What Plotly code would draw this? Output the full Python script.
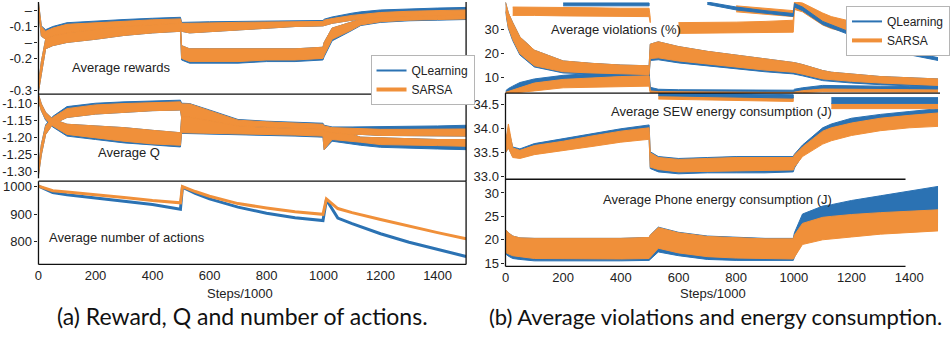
import plotly.graph_objects as go

# ---------------- data ----------------
STEPS = [0, 10, 25, 50, 100, 200, 300, 400, 498, 502, 530, 600, 700, 800, 900, 998,
         1002, 1030, 1100, 1130, 1200, 1300, 1400, 1500]
X_TICKS = [0, 200, 400, 600, 800, 1000, 1200, 1400]

# Average rewards (two noisy envelopes per algorithm: a = upper, b = lower)
rew_sarsa_a_top = [-0.025, -0.10, -0.115, -0.105, -0.093, -0.088, -0.083, -0.079, -0.076, -0.09, -0.09, -0.088,
                   -0.087, -0.086, -0.085, -0.084, -0.08, -0.075, -0.065, -0.062, -0.056, -0.052, -0.05, -0.048]
rew_sarsa_a_bot = [-0.05, -0.13, -0.14, -0.13, -0.12, -0.11, -0.10, -0.095, -0.09, -0.115, -0.12, -0.115,
                   -0.11, -0.105, -0.10, -0.098, -0.095, -0.09, -0.08, -0.077, -0.072, -0.068, -0.066, -0.064]
rew_sarsa_b_top = [-0.28, -0.21, -0.14, -0.13, -0.12, -0.11, -0.10, -0.095, -0.09, -0.16, -0.17, -0.17,
                   -0.17, -0.17, -0.17, -0.165, -0.15, -0.105, -0.085, -0.077, -0.072, -0.068, -0.066, -0.064]
rew_sarsa_b_bot = [-0.305, -0.25, -0.17, -0.16, -0.15, -0.14, -0.128, -0.12, -0.115, -0.20, -0.21, -0.21,
                   -0.21, -0.205, -0.205, -0.20, -0.19, -0.14, -0.11, -0.095, -0.085, -0.08, -0.078, -0.076]
rew_ql_a_top = [-0.025, -0.098, -0.11, -0.10, -0.088, -0.082, -0.078, -0.074, -0.071, -0.087, -0.087, -0.085,
                -0.084, -0.083, -0.082, -0.081, -0.077, -0.07, -0.058, -0.054, -0.048, -0.044, -0.042, -0.04]
rew_ql_a_bot = [-0.05, -0.13, -0.14, -0.13, -0.12, -0.11, -0.10, -0.095, -0.09, -0.115, -0.12, -0.115,
                -0.11, -0.105, -0.10, -0.098, -0.095, -0.09, -0.08, -0.077, -0.072, -0.068, -0.066, -0.064]
rew_ql_b_top = [-0.28, -0.21, -0.14, -0.13, -0.12, -0.11, -0.10, -0.095, -0.09, -0.16, -0.17, -0.17,
                -0.17, -0.17, -0.17, -0.165, -0.15, -0.105, -0.085, -0.077, -0.072, -0.068, -0.066, -0.064]
rew_ql_b_bot = [-0.305, -0.25, -0.17, -0.16, -0.15, -0.14, -0.128, -0.12, -0.115, -0.205, -0.215, -0.215,
                -0.215, -0.21, -0.21, -0.205, -0.195, -0.145, -0.112, -0.097, -0.087, -0.082, -0.08, -0.078]

# Average Q
q_sarsa_a_top = [-1.29, -1.22, -1.165, -1.14, -1.114, -1.103, -1.099, -1.096, -1.094, -1.10, -1.10, -1.12,
                 -1.148, -1.153, -1.157, -1.16, -1.165, -1.17, -1.172, -1.173, -1.175, -1.175, -1.175, -1.174]
q_sarsa_a_bot = [-1.31, -1.25, -1.19, -1.16, -1.14, -1.13, -1.125, -1.12, -1.118, -1.14, -1.14, -1.15,
                 -1.165, -1.17, -1.172, -1.175, -1.18, -1.185, -1.19, -1.19, -1.193, -1.195, -1.195, -1.195]
q_sarsa_b_top = [-1.072, -1.10, -1.125, -1.145, -1.16, -1.165, -1.17, -1.178, -1.185, -1.14, -1.14, -1.15,
                 -1.165, -1.17, -1.172, -1.175, -1.18, -1.185, -1.19, -1.198, -1.20, -1.203, -1.205, -1.205]
q_sarsa_b_bot = [-1.09, -1.12, -1.145, -1.165, -1.19, -1.20, -1.21, -1.218, -1.222, -1.185, -1.185, -1.185,
                 -1.188, -1.19, -1.192, -1.195, -1.235, -1.205, -1.21, -1.213, -1.22, -1.222, -1.223, -1.225]
q_ql_a_top = [-1.29, -1.22, -1.162, -1.137, -1.108, -1.098, -1.094, -1.091, -1.089, -1.098, -1.099, -1.118,
              -1.146, -1.151, -1.154, -1.157, -1.163, -1.168, -1.168, -1.168, -1.167, -1.166, -1.165, -1.163]
q_ql_a_bot = [-1.31, -1.25, -1.19, -1.16, -1.14, -1.13, -1.125, -1.12, -1.118, -1.14, -1.14, -1.15,
              -1.165, -1.17, -1.172, -1.175, -1.18, -1.185, -1.19, -1.19, -1.193, -1.195, -1.195, -1.195]
q_ql_b_top = [-1.072, -1.10, -1.125, -1.145, -1.16, -1.165, -1.17, -1.178, -1.185, -1.14, -1.14, -1.15,
              -1.165, -1.17, -1.172, -1.175, -1.18, -1.185, -1.19, -1.198, -1.20, -1.203, -1.205, -1.205]
q_ql_b_bot = [-1.09, -1.12, -1.148, -1.168, -1.195, -1.205, -1.215, -1.222, -1.227, -1.187, -1.188, -1.188,
              -1.19, -1.193, -1.195, -1.198, -1.235, -1.21, -1.218, -1.222, -1.228, -1.231, -1.233, -1.235]

# Average number of actions
ACT_STEPS = [0, 50, 100, 200, 300, 400, 498, 505, 550, 600, 700, 800, 900, 998,
             1010, 1050, 1100, 1200, 1300, 1400, 1500]
act_sarsa = [1002, 985, 980, 971, 960, 949, 941, 1000, 982, 965, 938, 922, 908, 899,
             955, 920, 905, 880, 855, 832, 810]
act_ql = [1002, 978, 970, 959, 947, 935, 917, 998, 975, 955, 925, 903, 886, 876,
          952, 885, 865, 828, 797, 770, 745]

# Average violations (%)
vio_sarsa_a_top = [41.5, 37, 33, 27, 21.5, 17, 16, 15.3, 15, 24, 25, 23, 21, 19.5, 18, 16.5,
                   16.3, 15.5, 13, 12.3, 11.5, 10.5, 10, 9.5]
vio_sarsa_a_bot = [38, 31, 26, 20, 15, 12.5, 12, 11.5, 11.3, 18, 18.3, 17, 15.8, 14.5, 13.2, 12.3,
                   12.2, 11.5, 9.5, 9, 8.5, 7.8, 7.2, 6.8]
vio_ql_a_top = [41.5, 37, 33, 27, 21.5, 17, 16, 15.3, 15, 24, 25, 23, 21, 19.5, 18, 16.5,
                16.3, 15.5, 13, 12.3, 11.5, 10.5, 10, 9.5]
vio_ql_a_bot = [37.5, 30.5, 25.5, 19.5, 14.5, 12, 11.6, 11.2, 11, 17.2, 17.5, 16.2, 15, 13.8, 12.5, 11.6,
                11.5, 10.8, 8.8, 8.3, 7.8, 7.1, 6.5, 6.1]
vio_ql_b_top = [4.5, 5.5, 6.5, 8, 9.5, 11, 11.8, 12.3, 12.7, 6, 5.2, 5, 4.9, 4.8, 4.8, 4.8,
                5.2, 5.8, 6.8, 6.8, 6.6, 6.5, 6.3, 6.2]
vio_ql_b_bot = [3.6, 4, 4.8, 6, 7.8, 9.3, 10, 10.5, 10.8, 4.5, 4.2, 4.1, 4, 3.9, 3.9, 3.9,
                4, 4.6, 5.3, 5.3, 5.2, 5.1, 5.0, 4.9]
vio_sarsa_b_top = [3.9, 4.3, 5, 6, 7.8, 9.3, 10, 10.5, 10.8, 4.5, 4.2, 4.1, 4, 3.9, 3.9, 3.9,
                   4, 4.6, 5.3, 5.3, 5.2, 5.1, 5.0, 4.9]
vio_sarsa_b_bot = [3.6, 3.6, 3.6, 3.7, 4.5, 5.8, 6, 6.2, 6.5, 3.6, 3.6, 3.6, 3.6, 3.6, 3.6, 3.6,
                   3.6, 3.8, 4.2, 4.2, 4.2, 4.1, 4.0, 4.0]
# overlapping upper traces in the violations panel
vio_sarsa_c_top = [None, None, 39.5, 39.5, 39.5, 39.3, 39.2, 39, 39, 35, None, 33, 33, 33.2, 33.5, 34,
                   41.6, 41.2, 37, 35.5, 33.5, 31, 30, 29.5]
vio_sarsa_c_bot = [None, None, 36, 36, 36, 35.8, 35.7, 35.5, 35.5, 33, None, 28.5, 28.5, 28.6, 28.8, 29,
                   38.5, 37.5, 32, 30.5, 28.5, 27.5, 26.5, 26]
vio_sarsa_d_top = [None, None, None, None, None, None, None, None, None, None, None, None, None, 40, 39, 38,
                   None, None, None, None, None, None, None, None]
vio_sarsa_d_bot = [None, None, None, None, None, None, None, None, None, None, None, None, None, 37.5, 36.5, 35.5,
                   None, None, None, None, None, None, None, None]
vio_ql_c_top = [None, None, None, None, None, 41.2, 41.2, 41.2, 41.2, None, None, None, 41.6, 39.5, 38, 36.8,
                41, 39.5, 33.5, 32, 28.8, 24.4, 20.8, 18.4]
vio_ql_c_bot = [None, None, None, None, None, 40, 40, 40, 40, None, None, None, 40.6, 38.3, 36.8, 35.6,
                39.5, 38, 32.2, 30.7, 27.6, 23.2, 19.6, 17.2]

# Average SEW energy consumption (J)
sew_sarsa_top = [33.7, 34.1, 33.6, 33.55, 33.65, 33.74, 33.85, 33.95, 34.02, 33.5, 33.4, 33.36, 33.38, 33.4,
                 33.4, 33.4, 33.45, 33.62, 33.95, 34.02, 34.12, 34.22, 34.28, 34.33]
sew_sarsa_bot = [33.5, 33.6, 33.4, 33.38, 33.46, 33.55, 33.63, 33.72, 33.78, 33.2, 33.15, 33.1, 33.12, 33.13,
                 33.13, 33.14, 33.2, 33.42, 33.68, 33.75, 33.86, 33.96, 34.02, 34.05]
sew_ql_top = [33.72, 34.0, 33.62, 33.58, 33.69, 33.79, 33.9, 34.0, 34.08, 33.52, 33.42, 33.38, 33.4, 33.42,
              33.42, 33.42, 33.47, 33.66, 34.02, 34.1, 34.22, 34.3, 34.36, 34.42]
sew_ql_bot = [33.5, 33.6, 33.42, 33.4, 33.48, 33.58, 33.66, 33.75, 33.8, 33.17, 33.1, 33.06, 33.08, 33.08,
              33.08, 33.1, 33.18, 33.45, 33.75, 33.82, 33.95, 34.05, 34.1, 34.15]
sew_sarsa_c_top = [None, None, None, None, None, None, None, None, None, None, 34.71, 34.70, 34.69, 34.68,
                   34.67, 34.66, None, None, None, 34.52, 34.52, 34.52, 34.52, 34.52]
sew_sarsa_c_bot = [None, None, None, None, None, None, None, None, None, None, 34.62, 34.61, 34.60, 34.59,
                   34.58, 34.57, None, None, None, 34.42, 34.42, 34.42, 34.42, 34.42]
sew_ql_c_top = [None, None, None, None, None, None, None, None, None, None, 34.745, 34.745, 34.74, 34.73,
                34.72, 34.71, None, None, None, 34.65, 34.65, 34.65, 34.65, 34.65]
sew_ql_c_bot = [None, None, None, None, None, None, None, None, None, None, 34.69, 34.68, 34.67, 34.66,
                34.65, 34.64, None, None, None, 34.53, 34.53, 34.53, 34.53, 34.53]

# Average Phone energy consumption (J)
ph_sarsa_top = [22.2, 21.5, 20.8, 20.4, 20.3, 20.3, 20.3, 20.3, 20.5, 21, 22.6, 21.5, 20.7, 20.4, 20.2, 20.2,
                21, 23.5, 24.8, 25, 25.4, 25.8, 26.1, 26.4]
ph_sarsa_bot = [17.3, 17, 16.6, 16.4, 16.0, 15.9, 15.9, 15.9, 16.0, 16.3, 18.2, 17.2, 16.4, 16.1, 16.0, 15.9,
                16.5, 19, 20, 20.2, 20.6, 21.2, 21.6, 21.9]
ph_ql_top = [22.2, 21.5, 20.8, 20.4, 20.3, 20.3, 20.3, 20.3, 20.5, 21, 22.7, 21.6, 20.8, 20.5, 20.3, 20.3,
             21.5, 25.5, 27.2, 27.5, 28.4, 29.4, 30.4, 31.4]
ph_ql_bot = [17, 16.5, 16, 15.8, 15.5, 15.5, 15.5, 15.5, 15.6, 16, 17.4, 16.6, 15.8, 15.6, 15.6, 15.6,
             16.3, 19.5, 21.5, 22, 22.5, 23, 23.3, 23.6]

SERIES = ["QLearning", "SARSA"]

# ---------------- styling / layout ----------------
W, H = 950, 339
BLUE = "#2b72b3"
ORANGE = "#f0903a"
TICKFONT = dict(family="Liberation Sans, Arial, sans-serif", size=13, color="#222")


def px(x):
    return x / W


def py(y):
    return 1 - y / H


fig = go.Figure()


def band(xs, top, bot, color, xa, ya):
    segs, seg = [], []
    for x, t, b in zip(xs, top, bot):
        if t is None or b is None:
            if seg:
                segs.append(seg)
            seg = []
        else:
            seg.append((x, t, b))
    if seg:
        segs.append(seg)
    for sg in segs:
        if len(sg) < 2:
            continue
        xx = [p[0] for p in sg] + [p[0] for p in reversed(sg)]
        yy = [p[1] for p in sg] + [p[2] for p in reversed(sg)]
        fig.add_trace(go.Scatter(x=xx, y=yy, mode="lines", fill="toself", fillcolor=color,
                                 line=dict(color=color, width=1), hoverinfo="skip",
                                 showlegend=False, xaxis=xa, yaxis=ya))


# rewards
band(STEPS, rew_ql_a_top, rew_ql_a_bot, BLUE, "x", "y")
band(STEPS, rew_ql_b_top, rew_ql_b_bot, BLUE, "x", "y")
band(STEPS, rew_sarsa_a_top, rew_sarsa_a_bot, ORANGE, "x", "y")
band(STEPS, rew_sarsa_b_top, rew_sarsa_b_bot, ORANGE, "x", "y")
# Q
band(STEPS, q_ql_a_top, q_ql_a_bot, BLUE, "x2", "y2")
band(STEPS, q_ql_b_top, q_ql_b_bot, BLUE, "x2", "y2")
band(STEPS, q_sarsa_a_top, q_sarsa_a_bot, ORANGE, "x2", "y2")
band(STEPS, q_sarsa_b_top, q_sarsa_b_bot, ORANGE, "x2", "y2")
# actions
fig.add_trace(go.Scatter(x=ACT_STEPS, y=act_ql, mode="lines", line=dict(color=BLUE, width=3),
                         showlegend=False, hoverinfo="skip", xaxis="x3", yaxis="y3"))
fig.add_trace(go.Scatter(x=ACT_STEPS, y=act_sarsa, mode="lines", line=dict(color=ORANGE, width=3),
                         showlegend=False, hoverinfo="skip", xaxis="x3", yaxis="y3"))
# violations
band(STEPS, vio_ql_a_top, vio_ql_a_bot, BLUE, "x4", "y4")
band(STEPS, vio_ql_b_top, vio_ql_b_bot, BLUE, "x4", "y4")
band(STEPS, vio_sarsa_c_top, vio_sarsa_c_bot, ORANGE, "x4", "y4")
band(STEPS, vio_sarsa_d_top, vio_sarsa_d_bot, ORANGE, "x4", "y4")
band(STEPS, vio_ql_c_top, vio_ql_c_bot, BLUE, "x4", "y4")
band(STEPS, vio_sarsa_a_top, vio_sarsa_a_bot, ORANGE, "x4", "y4")
band(STEPS, vio_sarsa_b_top, vio_sarsa_b_bot, ORANGE, "x4", "y4")
# SEW
band(STEPS, sew_ql_top, sew_ql_bot, BLUE, "x5", "y5")
band(STEPS, sew_sarsa_top, sew_sarsa_bot, ORANGE, "x5", "y5")
band(STEPS, sew_sarsa_c_top, sew_sarsa_c_bot, ORANGE, "x5", "y5")
band(STEPS, sew_ql_c_top, sew_ql_c_bot, BLUE, "x5", "y5")
# Phone
band(STEPS, ph_ql_top, ph_ql_bot, BLUE, "x6", "y6")
band(STEPS, ph_sarsa_top, ph_sarsa_bot, ORANGE, "x6", "y6")

# legend entries
for lg in ["legend", "legend2"]:
    fig.add_trace(go.Scatter(x=[None], y=[None], mode="lines", name=SERIES[0],
                             line=dict(color=BLUE, width=2), legend=lg, xaxis="x", yaxis="y"))
    fig.add_trace(go.Scatter(x=[None], y=[None], mode="lines", name=SERIES[1],
                             line=dict(color=ORANGE, width=4), legend=lg, xaxis="x", yaxis="y"))

xleft = [px(35), px(469)]
xright = [px(509), px(948)]


def xax(dom, anchor, labels):
    return dict(domain=dom, range=[0, 1500], anchor=anchor, showgrid=False, zeroline=False,
                showline=False, ticks="", showticklabels=labels, tickvals=X_TICKS,
                ticklabelstandoff=2, tickfont=TICKFONT, fixedrange=True)


def yax(dom, anchor, rng, tv, tt):
    return dict(domain=dom, range=rng, anchor=anchor, showgrid=False, zeroline=False,
                showline=False, ticks="outside", ticklen=3, tickcolor="#222",
                tickvals=tv, ticktext=tt, tickfont=TICKFONT, fixedrange=True)


LEGFONT = dict(family="Liberation Sans, Arial, sans-serif", size=12, color="#222")
fig.update_layout(
    width=W, height=H, margin=dict(l=0, r=0, t=0, b=0),
    paper_bgcolor="white", plot_bgcolor="rgba(0,0,0,0)",
    xaxis=xax(xleft, "y", False),
    xaxis2=xax(xleft, "y2", False),
    xaxis3=xax(xleft, "y3", True),
    xaxis4=xax(xright, "y4", False),
    xaxis5=xax(xright, "y5", False),
    xaxis6=xax(xright, "y6", True),
    yaxis=yax([py(94), py(0)], "x", [-0.312, -0.023], [-0.05, -0.1, -0.15, -0.2, -0.3],
              ["–", "-0.1", "–", "-0.2", "-0.3"]),
    yaxis2=yax([py(178), py(94)], "x2", [-1.3136, -1.071], [-1.10, -1.15, -1.20, -1.25, -1.30],
               ["-1.10", "-1.15", "-1.20", "-1.25", "-1.30"]),
    yaxis3=yax([py(268), py(183)], "x3", [716, 1019.6], [1000, 900, 800], ["1000", "900", "800"]),
    yaxis4=yax([py(93), py(0)], "x4", [3.6, 41.6], [30, 20, 10], ["30", "20", "10"]),
    yaxis5=yax([py(181), py(93)], "x5", [32.946, 34.745], [34.5, 34.0, 33.5, 33.0],
               ["34.5", "34.0", "33.5", "33.0"]),
    yaxis6=yax([py(270), py(181)], "x6", [14.31, 32.93], [30, 25, 20, 15],
               ["30", "25", "20", "15"]),
    legend=dict(x=px(372), y=py(54), xanchor="left", yanchor="top", bgcolor="white",
                bordercolor="#b5b5b5", borderwidth=1, tracegroupgap=0, itemwidth=30, font=LEGFONT),
    legend2=dict(x=px(855), y=py(4), xanchor="left", yanchor="top", bgcolor="white",
                 bordercolor="#b5b5b5", borderwidth=1, tracegroupgap=0, itemwidth=30, font=LEGFONT),
)

LINE = dict(color="#111", width=1.3)
segments = [
    (35, 0, 35, 180), (469, 0, 469, 183), (35, 94, 469, 94),
    (35, 183, 469, 183), (35, 268, 469, 268), (35, 183, 35, 268), (469, 183, 469, 268),
    (509, 93, 950, 93), (509, 93, 509, 270), (509, 181, 915, 181), (509, 270, 915, 270),
]
for x0, y0, x1, y1 in segments:
    fig.add_shape(type="line", xref="paper", yref="paper", x0=px(x0), y0=py(y0),
                  x1=px(x1), y1=py(y1), line=LINE)

LABELFONT = dict(family="Liberation Sans, Arial, sans-serif", size=13, color="#222")
labels = [
    ("Average rewards", 119, 67), ("Average Q", 127, 154), ("Average number of actions", 125, 240),
    ("Average violations (%)", 621, 28), ("Average SEW energy consumption (J)", 728, 112),
    ("Average Phone energy consumption (J)", 724, 202),
    ("Steps/1000", 240, 298), ("Steps/1000", 720, 298),
]
for t, x, y in labels:
    fig.add_annotation(text=t, x=px(x), y=py(y), xref="paper", yref="paper", showarrow=False,
                       xanchor="center", yanchor="middle", font=LABELFONT)

captions = [("(a) Reward, Q and number of actions.", 242, 321, 23),
            ("(b) Average violations and energy consumption.", 722, 321, 22)]
for t, x, y, s in captions:
    fig.add_annotation(text=t, x=px(x), y=py(y), xref="paper", yref="paper", showarrow=False,
                       xanchor="center", yanchor="middle",
                       font=dict(family="Lato, Open Sans, sans-serif", size=s, color="#111"))

fig.write_html("out.html")
